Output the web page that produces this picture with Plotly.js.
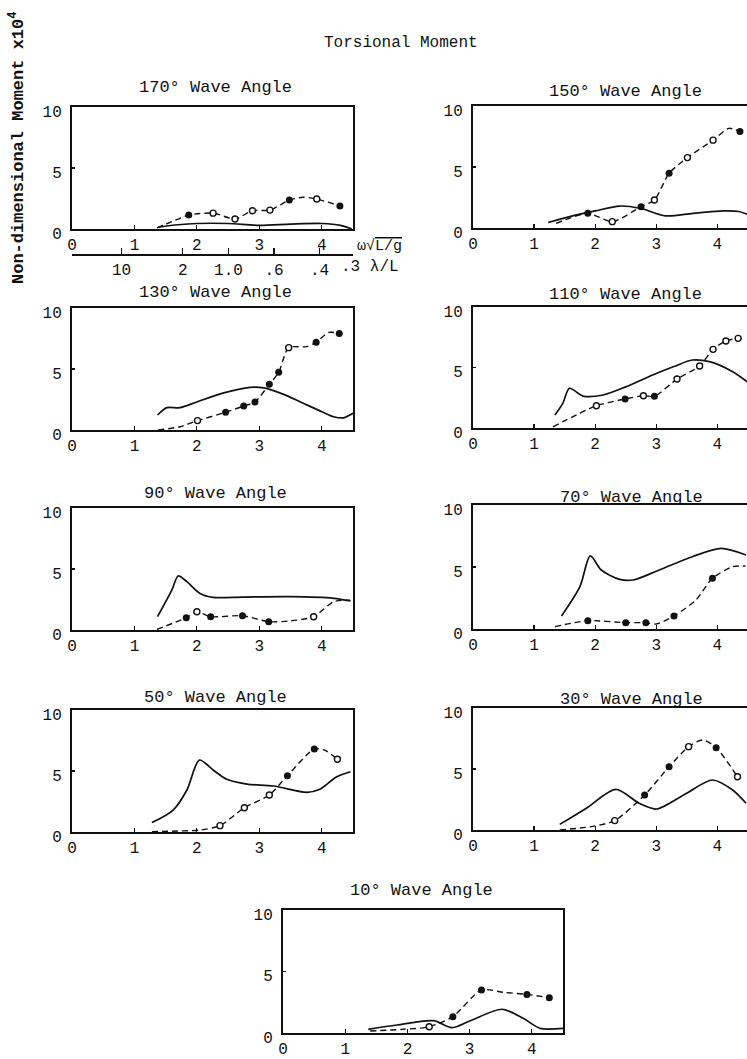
<!DOCTYPE html>
<html><head><meta charset="utf-8">
<script src="https://cdn.plot.ly/plotly-3.0.1.min.js"></script>
<style>html,body{margin:0;padding:0;overflow:hidden;background:#fff}#chart{width:760px;height:1059px}</style>
</head><body><div id="chart"></div>
<script>
// ---------- tick labels ----------
const xTickVals = [0, 1, 2, 3, 4];
const yTickVals = [0, 5, 10];
const lambdaVals = [10, 2, 1.0, 0.6, 0.4, 0.3];
const lambdaText = ['10', '2', '1.0', '.6', '.4', '.3'];

// ---------- 170 deg ----------
const s170x = [1.38, 1.7, 2.0, 2.5, 3.0, 3.5, 4.0, 4.3, 4.48];
const s170y = [0.15, 0.35, 0.45, 0.45, 0.3, 0.4, 0.45, 0.3, 0.0];
const d170x = [1.36, 1.6, 1.87, 2.26, 2.61, 2.89, 3.17, 3.48, 3.7, 3.92, 4.29];
const d170y = [0.1, 0.6, 1.15, 1.3, 0.82, 1.5, 1.55, 2.37, 2.6, 2.46, 1.88];
const f170x = [1.87, 3.48, 4.29];
const f170y = [1.15, 2.37, 1.88];
const o170x = [2.26, 2.61, 2.89, 3.17, 3.92];
const o170y = [1.3, 0.82, 1.5, 1.55, 2.46];
// ---------- 150 deg ----------
const s150x = [1.23, 1.6, 2.0, 2.4, 2.75, 3.15, 3.6, 4.1, 4.35, 4.6];
const s150y = [0.45, 0.95, 1.4, 1.8, 1.6, 1.0, 1.2, 1.4, 1.35, 0.9];
const d150x = [1.36, 1.88, 2.28, 2.75, 2.97, 3.21, 3.51, 3.93, 4.19, 4.37];
const d150y = [0.38, 1.2, 0.52, 1.75, 2.3, 4.48, 5.77, 7.2, 8.17, 7.9];
const f150x = [1.88, 2.75, 3.21, 4.37];
const f150y = [1.2, 1.75, 4.48, 7.9];
const o150x = [2.28, 2.97, 3.51, 3.93];
const o150y = [0.52, 2.3, 5.77, 7.2];
// ---------- 130 deg ----------
const s130x = [1.37, 1.52, 1.73, 2.0, 2.4, 2.85, 3.07, 3.4, 3.65, 4.0, 4.19, 4.35, 4.5];
const s130y = [1.23, 1.83, 1.83, 2.3, 3.0, 3.5, 3.45, 2.9, 2.32, 1.5, 1.09, 1.0, 1.37];
const d130x = [1.38, 1.73, 2.01, 2.46, 2.75, 2.93, 3.16, 3.31, 3.47, 3.76, 3.91, 4.11, 4.28];
const d130y = [0.0, 0.27, 0.77, 1.45, 1.97, 2.3, 3.74, 4.73, 6.75, 6.83, 7.19, 8.0, 7.92];
const f130x = [2.46, 2.75, 2.93, 3.16, 3.31, 3.91, 4.28];
const f130y = [1.45, 1.97, 2.3, 3.74, 4.73, 7.19, 7.92];
const o130x = [2.01, 3.47];
const o130y = [0.77, 6.75];
// ---------- 110 deg ----------
const s110x = [1.34, 1.47, 1.58, 1.8, 2.13, 2.5, 2.94, 3.3, 3.59, 3.87, 4.25, 4.6];
const s110y = [1.07, 2.04, 3.28, 2.64, 2.73, 3.4, 4.38, 5.1, 5.62, 5.48, 4.65, 3.4];
const d110x = [1.31, 2.02, 2.49, 2.79, 2.97, 3.34, 3.71, 3.93, 4.14, 4.34];
const d110y = [0.1, 1.84, 2.4, 2.67, 2.62, 4.05, 5.12, 6.5, 7.19, 7.41];
const f110x = [2.49, 2.97];
const f110y = [2.4, 2.62];
const o110x = [2.02, 2.79, 3.34, 3.71, 3.93, 4.14, 4.34];
const o110y = [1.84, 2.67, 4.05, 5.12, 6.5, 7.19, 7.41];
// ---------- 90 deg ----------
const s90x = [1.37, 1.6, 1.7, 1.84, 2.05, 2.26, 2.73, 3.5, 4.19, 4.46];
const s90y = [1.09, 3.28, 4.43, 3.96, 3.0, 2.68, 2.7, 2.73, 2.6, 2.38];
const d90x = [1.36, 1.83, 2.0, 2.22, 2.73, 3.15, 3.5, 3.87, 4.19, 4.45];
const d90y = [0.05, 1.01, 1.5, 1.09, 1.17, 0.68, 0.75, 1.09, 2.32, 2.45];
const f90x = [1.83, 2.22, 2.73, 3.15];
const f90y = [1.01, 1.09, 1.17, 0.68];
const o90x = [2.0, 3.87];
const o90y = [1.5, 1.09];
// ---------- 70 deg ----------
const s70x = [1.45, 1.75, 1.92, 2.1, 2.4, 2.62, 3.05, 3.59, 4.06, 4.47];
const s70y = [1.05, 3.41, 5.89, 4.76, 4.0, 3.95, 4.76, 5.83, 6.5, 5.97];
const d70x = [1.34, 1.88, 2.5, 2.83, 3.0, 3.29, 3.65, 3.92, 4.25, 4.46];
const d70y = [0.19, 0.67, 0.51, 0.51, 0.4, 1.05, 2.34, 4.09, 5.02, 5.08];
const f70x = [1.88, 2.5, 2.83, 3.29, 3.92];
const f70y = [0.67, 0.51, 0.51, 1.05, 4.09];
const o70x = [];
const o70y = [];
// ---------- 50 deg ----------
const s50x = [1.28, 1.62, 1.84, 2.04, 2.26, 2.48, 2.8, 3.23, 3.76, 3.97, 4.24, 4.46];
const s50y = [0.77, 1.8, 3.44, 5.9, 5.08, 4.32, 3.93, 3.77, 3.25, 3.5, 4.53, 4.94];
const d50x = [1.28, 1.7, 2.05, 2.37, 2.76, 3.16, 3.45, 3.88, 4.05, 4.25];
const d50y = [0.03, 0.08, 0.16, 0.52, 1.99, 3.03, 4.62, 6.8, 6.7, 5.96];
const f50x = [3.45, 3.88];
const f50y = [4.62, 6.8];
const o50x = [2.37, 2.76, 3.16, 4.25];
const o50y = [0.52, 1.99, 3.03, 5.96];
// ---------- 30 deg ----------
const s30x = [1.42, 1.85, 2.34, 2.72, 3.0, 3.49, 3.92, 4.25, 4.47];
const s30y = [0.46, 1.77, 3.33, 2.19, 1.72, 3.0, 4.1, 3.28, 2.19];
const d30x = [1.42, 1.96, 2.32, 2.81, 3.21, 3.53, 3.76, 3.98, 4.33];
const d30y = [0.0, 0.3, 0.77, 2.87, 5.19, 6.83, 7.38, 6.75, 4.37];
const f30x = [2.81, 3.21, 3.98];
const f30y = [2.87, 5.19, 6.75];
const o30x = [2.32, 3.53, 4.33];
const o30y = [0.77, 6.83, 4.37];
// ---------- 10 deg ----------
const s10x = [1.37, 1.83, 2.42, 2.71, 3.01, 3.52, 3.86, 4.13, 4.5];
const s10y = [0.3, 0.65, 1.0, 0.43, 1.0, 1.93, 1.19, 0.38, 0.38];
const d10x = [1.4, 1.93, 2.35, 2.73, 3.19, 3.55, 3.92, 4.28];
const d10y = [0.16, 0.3, 0.51, 1.33, 3.5, 3.3, 3.14, 2.87];
const f10x = [2.73, 3.19, 3.92, 4.28];
const f10y = [1.33, 3.5, 3.14, 2.87];
const o10x = [2.35];
const o10y = [0.51];

const titles = ['170° Wave Angle', '150° Wave Angle', '130° Wave Angle', '110° Wave Angle',
  '90° Wave Angle', '70° Wave Angle', '50° Wave Angle', '30° Wave Angle', '10° Wave Angle'];

// ---------- layout geometry (pixels) ----------
const W = 760, H = 1059;
const FONT = 'Liberation Mono, Courier New, monospace';
const boxes = [
  {l: 72, r: 353, t: 107, b: 229, xr: [0, 4.5], tx: 215, ty: 88},
  {l: 473, r: 754, t: 106, b: 228, xr: [0, 4.6], tx: 625, ty: 91},
  {l: 72, r: 353, t: 308, b: 430, xr: [0, 4.5], tx: 215, ty: 292},
  {l: 473, r: 754, t: 307, b: 428, xr: [0, 4.6], tx: 625, ty: 294},
  {l: 72, r: 353, t: 508, b: 630, xr: [0, 4.5], tx: 215, ty: 494},
  {l: 473, r: 754, t: 505, b: 629, xr: [0, 4.6], tx: 631, ty: 497},
  {l: 72, r: 353, t: 710, b: 832, xr: [0, 4.5], tx: 215, ty: 697},
  {l: 473, r: 754, t: 708, b: 830, xr: [0, 4.6], tx: 631, ty: 699},
  {l: 283, r: 563, t: 910, b: 1033, xr: [0, 4.5], tx: 422, ty: 890}
];
const series = [
  [s170x, s170y, d170x, d170y, f170x, f170y, o170x, o170y],
  [s150x, s150y, d150x, d150y, f150x, f150y, o150x, o150y],
  [s130x, s130y, d130x, d130y, f130x, f130y, o130x, o130y],
  [s110x, s110y, d110x, d110y, f110x, f110y, o110x, o110y],
  [s90x, s90y, d90x, d90y, f90x, f90y, o90x, o90y],
  [s70x, s70y, d70x, d70y, f70x, f70y, o70x, o70y],
  [s50x, s50y, d50x, d50y, f50x, f50y, o50x, o50y],
  [s30x, s30y, d30x, d30y, f30x, f30y, o30x, o30y],
  [s10x, s10y, d10x, d10y, f10x, f10y, o10x, o10y]
];

const traces = [];
const layout = {
  width: W, height: H, margin: {l: 0, r: 0, t: 0, b: 0},
  paper_bgcolor: '#fff', plot_bgcolor: '#fff', showlegend: false,
  font: {family: FONT, size: 15, color: '#111'},
  annotations: []
};

boxes.forEach((bx, i) => {
  const n = i + 1;
  const xa = 'x' + (n === 1 ? '' : n), ya = 'y' + (n === 1 ? '' : n);
  const s = series[i];
  traces.push({x: s[0], y: s[1], xaxis: xa, yaxis: ya, mode: 'lines',
    line: {color: '#111', width: 1.7, shape: 'spline', smoothing: 0.8}, hoverinfo: 'skip'});
  traces.push({x: s[2], y: s[3], xaxis: xa, yaxis: ya, mode: 'lines',
    line: {color: '#111', width: 1.4, dash: '6px,4px', shape: 'spline', smoothing: 0.7}, hoverinfo: 'skip'});
  traces.push({x: s[4], y: s[5], xaxis: xa, yaxis: ya, mode: 'markers',
    marker: {color: '#111', size: 7, symbol: 'circle'}, hoverinfo: 'skip'});
  traces.push({x: s[6], y: s[7], xaxis: xa, yaxis: ya, mode: 'markers',
    marker: {color: '#fff', size: 6, symbol: 'circle', line: {color: '#111', width: 1.4}}, hoverinfo: 'skip'});
  const xk = 'xaxis' + (n === 1 ? '' : n), yk = 'yaxis' + (n === 1 ? '' : n);
  layout[xk] = {
    domain: [bx.l / W, bx.r / W], range: bx.xr, anchor: ya,
    tickvals: xTickVals, ticktext: xTickVals.map(String),
    ticks: 'inside', ticklen: 4, tickwidth: 1.2, tickcolor: '#111',
    showline: true, linecolor: '#111', linewidth: 2, mirror: true,
    showgrid: false, zeroline: false, fixedrange: true,
    tickfont: {family: FONT, size: 16, color: '#111'}
  };
  layout[yk] = {
    domain: [1 - bx.b / H, 1 - bx.t / H], range: [0, 10], anchor: xa,
    tickvals: yTickVals, ticktext: yTickVals.map(String),
    ticks: 'inside', ticklen: 3, tickwidth: 1.2, tickcolor: '#111',
    ticklabelstandoff: 5, ticklabelshift: 4,
    showline: true, linecolor: '#111', linewidth: 2, mirror: true,
    showgrid: false, zeroline: false, fixedrange: true,
    tickfont: {family: FONT, size: 16, color: '#111'}
  };
  layout.annotations.push({text: titles[i], xref: 'paper', yref: 'paper',
    x: bx.tx / W, y: 1 - bx.ty / H, xanchor: 'center', yanchor: 'middle', showarrow: false,
    font: {family: FONT, size: 17, color: '#111'}});
});

// secondary wavelength axis under the 170 deg panel
const lamOmega = lambdaVals.map(v => Math.sqrt(2 * Math.PI / v));
traces.push({x: [1], y: [1], xaxis: 'x10', yaxis: 'y', mode: 'markers',
  marker: {opacity: 0, size: 1}, hoverinfo: 'skip'});
layout.xaxis10 = {
  domain: [74 / W, 350 / W], range: [0, 4.5], anchor: 'free', position: 1 - 255 / H,
  overlaying: 'x', tickvals: lamOmega.slice(0, 5), ticktext: lambdaText.slice(0, 5),
  ticks: 'inside', ticklen: 6, tickwidth: 1.3, tickcolor: '#111',
  showline: true, linecolor: '#111', linewidth: 2,
  showgrid: false, zeroline: false, fixedrange: true,
  tickfont: {family: FONT, size: 16, color: '#111'}
};
layout.annotations.push({text: lambdaText[5] + ' \u03bb/L', xref: 'paper', yref: 'paper',
  x: 339 / W, y: 1 - 267 / H, xanchor: 'left', yanchor: 'middle', showarrow: false,
  font: {family: FONT, size: 16, color: '#111'}});
layout.annotations.push({text: '\u03c9\u221a<span style="text-decoration:overline">L/g</span>',
  xref: 'paper', yref: 'paper', x: 355 / W, y: 1 - 246 / H, xanchor: 'left', yanchor: 'middle',
  showarrow: false, font: {family: FONT, size: 15, color: '#111'}});

// overall titles
layout.annotations.push({text: 'Torsional Moment', xref: 'paper', yref: 'paper',
  x: 401 / W, y: 1 - 43 / H, xanchor: 'center', yanchor: 'middle', showarrow: false,
  font: {family: FONT, size: 16, color: '#111'}});
layout.annotations.push({text: 'Non-dimensional Moment x10<sup>4</sup>', xref: 'paper', yref: 'paper',
  x: 17 / W, y: 1 - 148 / H, xanchor: 'center', yanchor: 'middle', textangle: -90, showarrow: false,
  font: {family: FONT, size: 17, color: '#111', weight: 'bold'}});

Plotly.newPlot('chart', traces, layout, {staticPlot: true, displayModeBar: false});
</script></body></html>
